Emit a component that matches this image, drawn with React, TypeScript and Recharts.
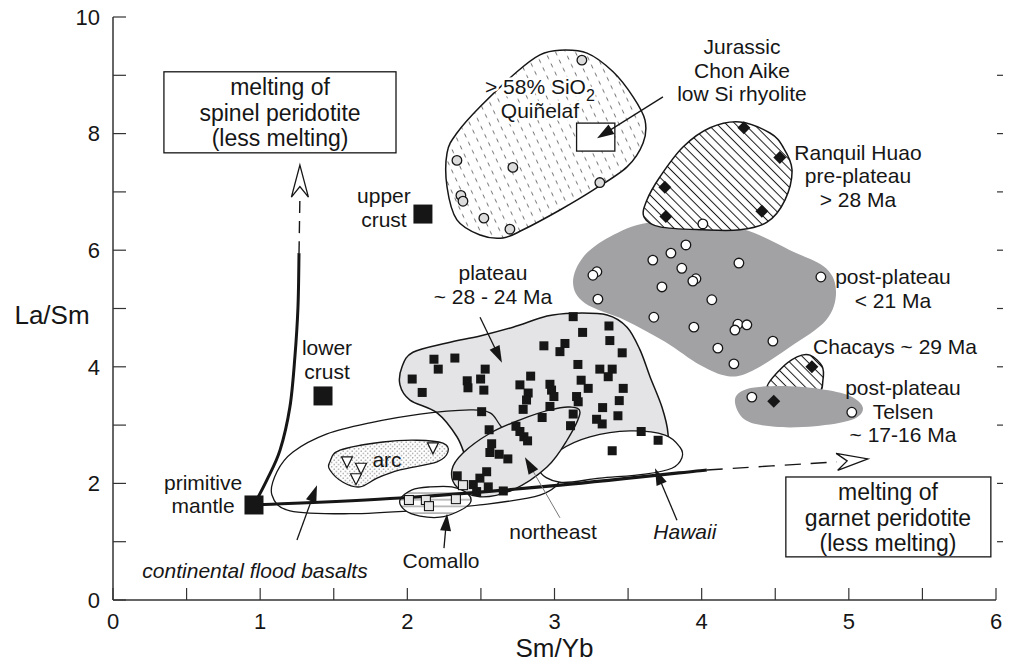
import React from "react";
import { ComposedChart, XAxis, YAxis, Scatter, Label } from "recharts";

type Pt = [number, number];
type XY = { x: number; y: number };

const FONT = '"Liberation Sans", Arial, Helvetica, sans-serif';
const INK = "#161616";

// axis ticks
const xTicks = [0, 0.5, 1, 1.5, 2, 2.5, 3, 3.5, 4, 4.5, 5, 5.5, 6];
const yTicks = [0, 1, 2, 3, 4, 5, 6, 7, 8, 9, 10];

// ---- samples (Sm/Yb, La/Sm) ----
const plateauSamples: Pt[] = [
  [3.127, 4.86], [3.37, 4.7], [3.191, 4.59], [3.376, 4.45], [2.928, 4.36], [3.071, 4.4],
  [3.037, 4.26], [3.46, 4.24], [2.181, 4.13], [2.323, 4.15], [2.21, 3.96], [2.529, 3.96],
  [3.159, 4.04], [3.308, 3.96], [3.392, 3.96], [3.365, 3.83], [2.033, 3.79], [2.407, 3.76],
  [2.498, 3.79], [2.412, 3.64], [2.838, 3.84], [2.765, 3.69], [2.969, 3.7], [3.181, 3.77],
  [3.229, 3.63], [3.467, 3.63], [2.101, 3.56], [2.52, 3.6], [2.821, 3.55], [2.81, 3.43],
  [2.98, 3.6], [2.996, 3.49], [3.15, 3.49], [3.161, 3.4], [3.44, 3.42], [2.787, 3.27],
  [2.969, 3.32], [2.505, 3.23], [3.327, 3.3], [3.127, 3.19], [3.286, 3.1], [3.324, 3.02],
  [3.431, 3.16], [2.916, 3.13], [3.109, 2.99], [2.738, 2.98], [2.765, 2.89], [2.792, 2.8],
  [2.817, 2.73], [2.556, 2.92], [3.589, 2.89], [3.704, 2.74], [2.573, 2.68], [2.561, 2.53],
  [2.624, 2.5], [2.683, 2.42], [3.392, 2.56], [2.339, 2.13], [2.539, 2.2], [2.493, 2.09],
  [2.448, 1.98], [2.471, 1.86], [2.55, 1.94], [2.652, 1.87],
];
const postPlateauSamples: Pt[] = [
  [3.893, 6.09], [3.791, 5.95], [3.668, 5.83], [4.253, 5.78], [3.288, 5.63], [3.261, 5.57],
  [3.865, 5.69], [3.961, 5.51], [3.94, 5.47], [3.73, 5.37], [3.295, 5.16], [4.069, 5.15],
  [4.81, 5.54], [3.675, 4.85], [3.947, 4.68], [4.246, 4.73], [4.307, 4.72], [4.226, 4.63],
  [4.484, 4.44], [4.11, 4.32], [4.219, 4.05], [4.008, 6.45],
];
const quinelafSamples: Pt[] = [
  [3.186, 9.26], [2.337, 7.54], [2.717, 7.42], [3.308, 7.16], [2.364, 6.94], [2.378, 6.84],
  [2.52, 6.55], [2.697, 6.36],
];
const ranquilSamples: Pt[] = [[4.287, 8.1], [4.531, 7.59], [3.75, 7.08], [3.757, 6.58], [4.409, 6.67]];
const chacaysSamples: Pt[] = [[4.749, 4.0]];
const telsenCircles: Pt[] = [[4.341, 3.48], [5.02, 3.22]];
const telsenDiamonds: Pt[] = [[4.49, 3.41]];
const comalloSamples: Pt[] = [[2.011, 1.715], [2.126, 1.715], [2.147, 1.61], [2.33, 1.73], [2.378, 1.97]];
const arcSamples: Pt[] = [[1.59, 2.37], [1.685, 2.26], [1.651, 2.08], [2.174, 2.61]];
// primitive mantle, lower crust, upper crust
const reservoirs: Pt[] = [[0.958, 1.63], [1.427, 3.5], [2.106, 6.62]];

// ---- field outlines ----
const quinelafField: Pt[] = [
  [2.494, 8.46], [2.745, 9.06], [2.901, 9.35], [3.037, 9.43], [3.221, 9.38], [3.398, 9.06],
  [3.534, 8.63], [3.615, 8.23], [3.602, 7.84], [3.493, 7.43], [3.262, 7.03], [3.037, 6.69],
  [2.786, 6.35], [2.65, 6.21], [2.494, 6.26], [2.337, 6.52], [2.27, 7.08], [2.27, 7.67], [2.337, 8.01],
];
const ranquilField: Pt[] = [
  [4.26, 8.2], [4.464, 8.01], [4.553, 7.77], [4.614, 7.38], [4.566, 6.86], [4.444, 6.48],
  [4.26, 6.35], [4.009, 6.35], [3.717, 6.4], [3.608, 6.57], [3.628, 6.86], [3.717, 7.26],
  [3.873, 7.77], [4.057, 8.1],
];
const postPlateauField: Pt[] = [
  [3.126, 5.44], [3.194, 5.88], [3.377, 6.23], [3.635, 6.47], [3.989, 6.44], [4.294, 6.35],
  [4.6, 6.0], [4.845, 5.69], [4.913, 5.28], [4.845, 4.8], [4.6, 4.34], [4.342, 3.93],
  [4.179, 3.84], [3.989, 4.03], [3.751, 4.43], [3.479, 4.8], [3.207, 5.09],
];
const chacaysField: Pt[] = [
  [4.736, 4.2], [4.818, 4.01], [4.824, 3.77], [4.79, 3.55], [4.6, 3.48], [4.444, 3.62],
  [4.532, 3.95], [4.648, 4.17],
];
const telsenField: Pt[] = [
  [4.226, 3.43], [4.308, 3.62], [4.532, 3.67], [4.804, 3.62], [5.008, 3.5], [5.096, 3.29],
  [5.021, 3.09], [4.77, 2.98], [4.498, 2.97], [4.294, 3.09],
];
const plateauField: Pt[] = [
  [1.964, 4.0], [2.038, 4.25], [2.269, 4.41], [2.494, 4.53], [2.718, 4.68], [2.949, 4.87],
  [3.126, 4.92], [3.357, 4.89], [3.493, 4.68], [3.581, 4.29], [3.649, 3.83], [3.73, 3.31],
  [3.771, 2.86], [3.751, 2.61], [3.581, 2.54], [3.309, 2.49], [3.037, 2.32], [2.766, 2.06],
  [2.494, 1.97], [2.405, 2.4], [2.337, 2.8], [2.202, 3.21], [2.018, 3.43], [1.95, 3.69],
];
const floodBasaltField: Pt[] = [
  [1.08, 1.8], [1.114, 2.2], [1.223, 2.54], [1.454, 2.85], [1.746, 3.04], [2.086, 3.19],
  [2.426, 3.26], [2.562, 3.21], [2.63, 3.0], [2.732, 2.66], [2.901, 2.37], [3.037, 2.09],
  [2.901, 1.8], [2.494, 1.63], [2.086, 1.54], [1.61, 1.48], [1.203, 1.53],
];
const hawaiiField: Pt[] = [
  [2.901, 2.23], [3.037, 2.57], [3.241, 2.8], [3.513, 2.9], [3.751, 2.83], [3.853, 2.62],
  [3.866, 2.44], [3.798, 2.26], [3.615, 2.16], [3.309, 2.09], [3.037, 2.02],
];
const northeastField: Pt[] = [
  [3.105, 3.31], [3.173, 3.21], [3.085, 2.74], [2.949, 2.28], [2.718, 1.89], [2.494, 1.77],
  [2.337, 1.94], [2.303, 2.23], [2.378, 2.52], [2.562, 2.86], [2.766, 3.09], [2.969, 3.26],
];
const comalloField: Pt[] = [
  [1.95, 1.72], [2.032, 1.89], [2.154, 1.94], [2.303, 1.94], [2.412, 1.82], [2.426, 1.66],
  [2.337, 1.51], [2.222, 1.42], [2.086, 1.44], [1.984, 1.54],
];
const arcField: Pt[] = [
  [1.474, 2.37], [1.542, 2.57], [1.835, 2.71], [2.066, 2.74], [2.242, 2.69], [2.276, 2.54],
  [2.202, 2.37], [1.95, 2.23], [1.794, 2.09], [1.678, 1.94], [1.563, 2.02], [1.474, 2.23],
];
const chonAikeBox: Pt[] = [[3.15, 8.18], [3.41, 7.7]];

// ---- melting trends ----
const spinelTrend: Pt[] = [
  [0.958, 1.63], [1.046, 2.06], [1.135, 2.57], [1.202, 3.31], [1.236, 4.17], [1.257, 5.03], [1.264, 5.95],
];
const spinelDashed: Pt[] = [[1.264, 5.95], [1.27, 6.91]];
const spinelHead: Pt[] = [[1.27, 6.91], [1.27, 7.46]];
const garnetTrend: Pt[] = [[0.958, 1.63], [1.95, 1.75], [3.037, 1.97], [4.035, 2.23]];
const garnetDashed: Pt[] = [[4.035, 2.23], [4.919, 2.37]];
const garnetHead: Pt[] = [[4.919, 2.37], [5.13, 2.42]];

// pointer arrows: [from, to]
const plateauPointer: Pt[] = [[2.494, 4.85], [2.643, 4.07]];
const northeastPointer: Pt[] = [[3.037, 1.41], [2.799, 2.45]];
const hawaiiPointer: Pt[] = [[3.832, 1.37], [3.683, 2.26]];
const basaltPointer: Pt[] = [[1.25, 1.03], [1.386, 1.97]];
const comalloPointer: Pt[] = [[2.249, 0.89], [2.27, 1.48]];
const chonAikePointer: Pt[] = [[3.737, 8.63], [3.289, 7.92]];

// boxed captions
const spinelCaptionBox: Pt[] = [[0.346, 9.06], [1.923, 7.67]];
const garnetCaptionBox: Pt[] = [[4.572, 2.11], [5.965, 0.74]];

type Note = { x: number; y: number; lines: string[]; italic?: boolean; big?: boolean; halo?: boolean };
const notes: Note[] = [
  { x: 1.135, y: 8.8, lines: ["melting of", "spinel peridotite", "(less melting)"], big: true },
  { x: 5.266, y: 1.85, lines: ["melting of", "garnet peridotite", "(less melting)"], big: true },
  { x: 4.274, y: 9.49, lines: ["Jurassic", "Chon Aike", "low Si rhyolite"] },
  { x: 2.901, y: 8.8, lines: ["> 58% SiO2", "Quiñelaf"], halo: true },
  { x: 5.062, y: 7.68, lines: ["Ranquil Huao", "pre-plateau", "> 28 Ma"] },
  { x: 5.3, y: 5.54, lines: ["post-plateau", "< 21 Ma"] },
  { x: 5.314, y: 4.34, lines: ["Chacays ~ 29 Ma"] },
  { x: 5.368, y: 3.64, lines: ["post-plateau", " Telsen", "~ 17-16 Ma"] },
  { x: 1.841, y: 6.93, lines: ["upper", "crust"] },
  { x: 1.454, y: 4.32, lines: ["lower", "crust"] },
  { x: 0.612, y: 2.02, lines: ["primitive", "mantle"] },
  { x: 2.582, y: 5.61, lines: ["plateau", "~ 28 - 24 Ma"] },
  { x: 1.862, y: 2.4, lines: ["arc"] },
  { x: 2.99, y: 1.17, lines: ["northeast"] },
  { x: 3.886, y: 1.17, lines: ["Hawaii"], italic: true },
  { x: 2.229, y: 0.67, lines: ["Comallo"] },
  { x: 0.965, y: 0.51, lines: ["continental flood basalts"], italic: true },
];

const toData = (pts: Pt[]) => pts.map(([x, y]) => ({ x, y }));

// smooth closed outline through every vertex (Catmull-Rom)
function closedPath(p: XY[]) {
  const n = p.length;
  let d = `M${p[0].x},${p[0].y}`;
  for (let i = 0; i < n; i++) {
    const p0 = p[(i - 1 + n) % n];
    const p1 = p[i];
    const p2 = p[(i + 1) % n];
    const p3 = p[(i + 2) % n];
    d += ` C${p1.x + (p2.x - p0.x) / 6},${p1.y + (p2.y - p0.y) / 6} ${p2.x - (p3.x - p1.x) / 6},${p2.y - (p3.y - p1.y) / 6} ${p2.x},${p2.y}`;
  }
  return d + "Z";
}

function openPath(p: XY[]) {
  const n = p.length;
  let d = `M${p[0].x},${p[0].y}`;
  for (let i = 0; i < n - 1; i++) {
    const p0 = p[Math.max(i - 1, 0)];
    const p1 = p[i];
    const p2 = p[i + 1];
    const p3 = p[Math.min(i + 2, n - 1)];
    d += ` C${p1.x + (p2.x - p0.x) / 6},${p1.y + (p2.y - p0.y) / 6} ${p2.x - (p3.x - p1.x) / 6},${p2.y - (p3.y - p1.y) / 6} ${p2.x},${p2.y}`;
  }
  return d;
}

const field = (fill: string, stroke = INK, width = 1.5) => (props: any) => (
  <path d={closedPath(props.points)} fill={fill} stroke={stroke} strokeWidth={width} />
);

const trend = (width: number, dash?: string) => (props: any) => (
  <path d={openPath(props.points)} fill="none" stroke={INK} strokeWidth={width} strokeDasharray={dash} />
);

const pointer = (lineColor = INK, width = 1.3) => (props: any) => {
  const [a, b] = props.points as XY[];
  const len = Math.hypot(b.x - a.x, b.y - a.y);
  const ux = (b.x - a.x) / len;
  const uy = (b.y - a.y) / len;
  const L = 17;
  const W = 5.5;
  const bx = b.x - ux * L;
  const by = b.y - uy * L;
  return (
    <g>
      <line x1={a.x} y1={a.y} x2={bx + ux * 4} y2={by + uy * 4} stroke={lineColor} strokeWidth={width} />
      <polygon points={`${b.x},${b.y} ${bx - uy * W},${by + ux * W} ${bx + uy * W},${by - ux * W}`} fill={INK} />
    </g>
  );
};

// open chevron head for the melting trends
const openHead = (props: any) => {
  const [a, b] = props.points as XY[];
  const len = Math.hypot(b.x - a.x, b.y - a.y);
  const ux = (b.x - a.x) / len;
  const uy = (b.y - a.y) / len;
  const W = 8.5;
  const nx = a.x + ux * len * 0.33;
  const ny = a.y + uy * len * 0.33;
  return (
    <polygon
      points={`${b.x},${b.y} ${a.x - uy * W},${a.y + ux * W} ${nx},${ny} ${a.x + uy * W},${a.y - ux * W}`}
      fill="#fff"
      stroke={INK}
      strokeWidth={1.3}
      strokeLinejoin="miter"
    />
  );
};

const boxLine = (props: any) => {
  const [a, b] = props.points as XY[];
  return (
    <rect
      x={Math.min(a.x, b.x)}
      y={Math.min(a.y, b.y)}
      width={Math.abs(b.x - a.x)}
      height={Math.abs(b.y - a.y)}
      fill="#fff"
      stroke={INK}
      strokeWidth={1.3}
    />
  );
};

const none = () => <g />;

const square = (size: number, fill: string, stroke = "none") => (p: any) => (
  <rect x={p.cx - size / 2} y={p.cy - size / 2} width={size} height={size} fill={fill} stroke={stroke} strokeWidth={1.1} />
);
const circle = (fill: string) => (p: any) => (
  <circle cx={p.cx} cy={p.cy} r={4.8} fill={fill} stroke={INK} strokeWidth={1.3} />
);
const diamond = (p: any) => (
  <polygon points={`${p.cx},${p.cy - 6.5} ${p.cx + 6.5},${p.cy} ${p.cx},${p.cy + 6.5} ${p.cx - 6.5},${p.cy}`} fill={INK} />
);
const triangle = (p: any) => (
  <polygon points={`${p.cx - 5.5},${p.cy - 5} ${p.cx + 5.5},${p.cy - 5} ${p.cx},${p.cy + 6}`} fill="#fff" stroke={INK} strokeWidth={1.2} />
);

function noteText(t: string) {
  if (t.endsWith("SiO2")) {
    return (
      <>
        {t.slice(0, -1)}
        <tspan dy={7} fontSize={16}>2</tspan>
      </>
    );
  }
  return t;
}

const noteShape = (p: any) => {
  const n = p.payload as Note;
  const gap = n.big ? 25.5 : 23.5;
  return (
    <g>
      {n.lines.map((t, i) => (
        <text
          key={i}
          x={p.cx}
          y={p.cy + i * gap}
          dy="0.35em"
          textAnchor="middle"
          fontSize={n.big ? 23 : 21}
          fontStyle={n.italic ? "italic" : "normal"}
          fontFamily={FONT}
          fill={INK}
          stroke={n.halo ? "#fff" : "none"}
          strokeWidth={n.halo ? 5 : 0}
          strokeLinejoin="round"
          paintOrder="stroke"
        >
          {noteText(t)}
        </text>
      ))}
    </g>
  );
};

const BottomTick = (p: any) => {
  const v = p.payload.value as number;
  return (
    <g>
      <line x1={p.x} y1={p.y} x2={p.x} y2={p.y - 12} stroke="#333" strokeWidth={1.2} />
      {Number.isInteger(v) && (
        <text x={p.x} y={p.y + 21} dy="0.35em" textAnchor="middle" fontSize={22} fontFamily={FONT} fill={INK}>
          {v}
        </text>
      )}
    </g>
  );
};
const TopTick = (p: any) => (
  <line x1={p.x} y1={p.y} x2={p.x} y2={p.y + 12} stroke="#333" strokeWidth={1.2} />
);
const LeftTick = (p: any) => {
  const v = p.payload.value as number;
  return (
    <g>
      <line x1={p.x} y1={p.y} x2={p.x + 13} y2={p.y} stroke="#333" strokeWidth={1.2} />
      {v % 2 === 0 && (
        <text x={p.x - 13} y={p.y} dy="0.35em" textAnchor="end" fontSize={22} fontFamily={FONT} fill={INK}>
          {v}
        </text>
      )}
    </g>
  );
};
const RightTick = (p: any) => (
  <line x1={p.x + 1} y1={p.y} x2={p.x + 7} y2={p.y} stroke="#333" strokeWidth={1.2} />
);

const axisStroke = { stroke: "#333", strokeWidth: 1.5 };

export default function App() {
  return (
    <div style={{ position: "absolute", left: 0, top: 0, width: 1014, height: 664, background: "#fff" }}>
      <svg width={0} height={0} style={{ position: "absolute" }}>
        <defs>
          <pattern id="dashFill" width="9" height="9" patternUnits="userSpaceOnUse" patternTransform="rotate(-25)">
            <rect width="9" height="9" fill="#fff" />
            <line x1="4.5" y1="2.5" x2="4.5" y2="6.5" stroke="#6a6a6a" strokeWidth="0.9" />
          </pattern>
          <pattern id="hatch" width="6.5" height="6.5" patternUnits="userSpaceOnUse" patternTransform="rotate(-45)">
            <rect width="6.5" height="6.5" fill="#fff" />
            <line x1="3.25" y1="0" x2="3.25" y2="6.5" stroke="#1a1a1a" strokeWidth="1" />
          </pattern>
          <pattern id="dots" width="4.5" height="4.5" patternUnits="userSpaceOnUse">
            <rect width="4.5" height="4.5" fill="#fff" />
            <circle cx="1.1" cy="1.1" r="0.6" fill="#666" />
            <circle cx="3.35" cy="3.35" r="0.6" fill="#666" />
          </pattern>
          <pattern id="rules" width="10" height="6.7" patternUnits="userSpaceOnUse">
            <rect width="10" height="6.7" fill="#fff" />
            <line x1="0" y1="3.9" x2="10" y2="3.9" stroke="#8a8a8a" strokeWidth="1.1" />
          </pattern>
        </defs>
      </svg>
      <ComposedChart width={1014} height={664} margin={{ top: 17, right: 0, bottom: 0, left: 0 }}>
        <XAxis
          xAxisId={0}
          type="number"
          dataKey="x"
          domain={[0, 6]}
          ticks={xTicks}
          interval={0}
          height={64}
          tickSize={0}
          tickMargin={0}
          tickLine={false}
          axisLine={axisStroke}
          tick={<BottomTick />}
          allowDataOverflow
        >
          <Label
            content={({ viewBox }: any) => (
              <text x={viewBox.x + viewBox.width / 2} y={viewBox.y + 48} dy="0.35em" textAnchor="middle" fontSize={26} fontFamily={FONT} fill={INK}>
                Sm/Yb
              </text>
            )}
          />
        </XAxis>
        <XAxis
          xAxisId="top"
          orientation="top"
          type="number"
          dataKey="x"
          domain={[0, 6]}
          ticks={xTicks}
          interval={0}
          height={0}
          tickSize={0}
          tickMargin={0}
          tickLine={false}
          axisLine={axisStroke}
          tick={<TopTick />}
          allowDataOverflow
        />
        <YAxis
          yAxisId={0}
          type="number"
          dataKey="y"
          domain={[0, 10]}
          ticks={yTicks}
          interval={0}
          width={113}
          tickSize={0}
          tickMargin={0}
          tickLine={false}
          axisLine={axisStroke}
          tick={<LeftTick />}
          allowDataOverflow
        >
          <Label
            content={({ viewBox }: any) => (
              <text x={viewBox.x + 52} y={viewBox.y + viewBox.height / 2 + 6} dy="0.35em" textAnchor="middle" fontSize={26} fontFamily={FONT} fill={INK}>
                La/Sm
              </text>
            )}
          />
        </YAxis>
        <YAxis
          yAxisId="right"
          orientation="right"
          type="number"
          dataKey="y"
          domain={[0, 10]}
          ticks={yTicks.slice(1, -1)}
          interval={0}
          width={18}
          tickSize={0}
          tickMargin={0}
          tickLine={false}
          axisLine={false}
          tick={<RightTick />}
          allowDataOverflow
        />

        {/* fields */}
        <Scatter data={toData(postPlateauField)} shape={none} line={field("#a2a2a5", "none", 0)} isAnimationActive={false} />
        <Scatter data={toData(ranquilField)} shape={none} line={field("url(#hatch)")} isAnimationActive={false} />
        <Scatter data={toData(quinelafField)} shape={none} line={field("url(#dashFill)")} isAnimationActive={false} />
        <Scatter data={toData(chacaysField)} shape={none} line={field("url(#hatch)")} isAnimationActive={false} />
        <Scatter data={toData(telsenField)} shape={none} line={field("#a2a2a5", "none", 0)} isAnimationActive={false} />
        <Scatter data={toData(plateauField)} shape={none} line={field("#e4e4e6")} isAnimationActive={false} />
        <Scatter data={toData(floodBasaltField)} shape={none} line={field("none", INK, 1.3)} isAnimationActive={false} />
        <Scatter data={toData(hawaiiField)} shape={none} line={field("#fff", INK, 1.3)} isAnimationActive={false} />
        <Scatter data={toData(northeastField)} shape={none} line={field("#e4e4e6", INK, 1.4)} isAnimationActive={false} />
        <Scatter data={toData(comalloField)} shape={none} line={field("url(#rules)", INK, 1.3)} isAnimationActive={false} />
        <Scatter data={toData(arcField)} shape={none} line={field("url(#dots)", INK, 1.3)} isAnimationActive={false} />
        <Scatter data={toData(chonAikeBox)} shape={none} line={boxLine} isAnimationActive={false} />

        {/* melting trends */}
        <Scatter data={toData(spinelTrend)} shape={none} line={trend(3)} isAnimationActive={false} />
        <Scatter data={toData(spinelDashed)} shape={none} line={trend(1.4, "12 8")} isAnimationActive={false} />
        <Scatter data={toData(spinelHead)} shape={none} line={openHead} isAnimationActive={false} />
        <Scatter data={toData(garnetTrend)} shape={none} line={trend(3.2)} isAnimationActive={false} />
        <Scatter data={toData(garnetDashed)} shape={none} line={trend(1.4, "16 10")} isAnimationActive={false} />
        <Scatter data={toData(garnetHead)} shape={none} line={openHead} isAnimationActive={false} />

        {/* pointers */}
        <Scatter data={toData(plateauPointer)} shape={none} line={pointer()} isAnimationActive={false} />
        <Scatter data={toData(northeastPointer)} shape={none} line={pointer("#777", 1)} isAnimationActive={false} />
        <Scatter data={toData(hawaiiPointer)} shape={none} line={pointer()} isAnimationActive={false} />
        <Scatter data={toData(basaltPointer)} shape={none} line={pointer()} isAnimationActive={false} />
        <Scatter data={toData(comalloPointer)} shape={none} line={pointer()} isAnimationActive={false} />
        <Scatter data={toData(chonAikePointer)} shape={none} line={pointer()} isAnimationActive={false} />

        {/* samples */}
        <Scatter data={toData(plateauSamples)} shape={square(9, INK)} isAnimationActive={false} />
        <Scatter data={toData(postPlateauSamples)} shape={circle("#fff")} isAnimationActive={false} />
        <Scatter data={toData(quinelafSamples)} shape={circle("#dcdcdc")} isAnimationActive={false} />
        <Scatter data={toData(ranquilSamples)} shape={diamond} isAnimationActive={false} />
        <Scatter data={toData(chacaysSamples)} shape={diamond} isAnimationActive={false} />
        <Scatter data={toData(telsenCircles)} shape={circle("#fff")} isAnimationActive={false} />
        <Scatter data={toData(telsenDiamonds)} shape={diamond} isAnimationActive={false} />
        <Scatter data={toData(comalloSamples)} shape={square(9, "#e6e6e6", INK)} isAnimationActive={false} />
        <Scatter data={toData(arcSamples)} shape={triangle} isAnimationActive={false} />
        <Scatter data={toData(reservoirs)} shape={square(19, INK)} isAnimationActive={false} />

        {/* captions */}
        <Scatter data={toData(spinelCaptionBox)} shape={none} line={boxLine} isAnimationActive={false} />
        <Scatter data={toData(garnetCaptionBox)} shape={none} line={boxLine} isAnimationActive={false} />
        <Scatter data={notes} shape={noteShape} isAnimationActive={false} />
      </ComposedChart>
    </div>
  );
}
